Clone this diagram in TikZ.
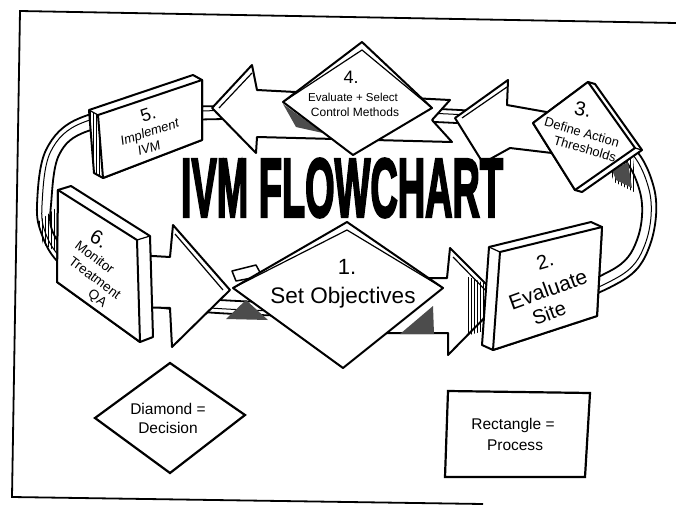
\documentclass[tikz,border=0pt]{standalone}
\usepackage{fontspec}
\setmainfont{Liberation Sans}
\newfontfamily\titlefont{Liberation Sans}[FakeBold=3.5]
\usetikzlibrary{patterns}
\newcommand\myfs[1]{\fontsize{#1}{#1}\selectfont}
\tikzset{
  shapeol/.style={fill=white, draw=black, line width=2pt, line join=round},
  edgethree/.style={draw=black, line width=1.2pt},
  darkpatch/.style={fill=black!70, draw=none},
  hatchpatch/.style={pattern=vertical lines, draw=none},
  ringline/.style={draw=black, line width=1.8pt},
  lab/.style={inner sep=0pt, align=center},
}
\begin{document}
\begin{tikzpicture}[x=1pt,y=-1pt]
\useasboundingbox (0,0) rectangle (676,506);
% frame
\draw[line width=1.8pt] (676,23) -- (20,11) -- (12,497) -- (483,504);

% ring band behind everything
\draw[ringline] plot[smooth cycle, tension=0.6] coordinates {(37,205) (46,150) (80,118) (150,108) (345,106) (540,116) (622,138) (654,188) (650,245) (620,282) (540,306) (345,316) (180,310) (95,290) (58,262) (42,235)};
\draw[line width=1pt] plot[smooth cycle, tension=0.6] coordinates {(42,205) (50.5,152) (83,122.5) (152,112.5) (345,110.5) (539,120.5) (618.5,142) (649,189.5) (645.5,243) (616.5,278) (538,301.5) (345,311.5) (181,305.5) (97,285.5) (61.5,258.5) (45.5,233)};
\draw[ringline] plot[smooth cycle, tension=0.6] coordinates {(51,205) (59,155) (88,131) (155,121) (345,119) (538,129) (612,149) (640,192) (637,240) (610,271) (535,293) (345,303) (182,297) (100,278) (68,253) (52,230)};

% hatched shadows on the band
\path[hatchpatch] (38,222) -- (56,208) -- (57,252) -- (43,244) -- cycle;
\path[hatchpatch] (608,165) -- (633,158) -- (636,193) -- (614,182) -- cycle;
\path[darkpatch] (612,170) -- (628,162) -- (632,188) -- (616,180) -- cycle;

% block arrows
% 4 -> 5
\draw[shapeol] (450,100) -- (432,120) -- (452,142) -- (257,137) -- (256,153) -- (212,108) -- (252,65) -- (257,90) -- cycle;
\draw[edgethree] (219,108) -- (252,73);
% 3 -> 4
\draw[shapeol] (552,113) -- (507,105) -- (508,80) -- (455,118) -- (483,163) -- (510,148) -- (552,153) -- cycle;
\draw[edgethree] (462,118) -- (507,87);
% 6 -> 1
\draw[shapeol] (135,255) -- (170,257) -- (173,225) -- (230,290) -- (172,347) -- (170,308) -- (135,307) -- cycle;
\draw[edgethree] (175,234) -- (223,290);
% 1 -> 2
\draw[shapeol] (385,278) -- (447,278) -- (450,248) -- (502,300) -- (448,355) -- (448,333) -- (385,333) -- cycle;
\draw[edgethree] (453,257) -- (495,300);
\path[hatchpatch] (466,276) -- (484,283) -- (484,331) -- (466,336) -- cycle;
% small tail piece left of diamond 1
\draw[shapeol, line width=1.5pt] (232,271) -- (256,265) -- (262,276) -- (236,281) -- cycle;

% shadows near the diamonds
\path[darkpatch] (226,319) -- (246,300) -- (268,320) -- cycle;
\path[darkpatch] (400,334) -- (433,306) -- (434,334) -- cycle;
\path[darkpatch] (283,104) -- (323,133) -- (296,127) -- cycle;

% box 5 (slab, depth up-left)
\draw[shapeol] (89,110) -- (193,75) -- (202,80) -- (202,140) -- (103,178) -- (94,173) -- cycle;
\path[hatchpatch] (89,110) -- (98,115) -- (103,178) -- (94,173) -- cycle;
\draw[shapeol] (98,115) -- (202,80) -- (202,140) -- (103,178) -- cycle;
\draw[edgethree] (98,115) -- (89,110);

% box 2
\draw[shapeol] (489,247) -- (591,222) -- (602,227) -- (597,316) -- (493,350) -- (482,345) -- cycle;
\draw[shapeol] (500,252) -- (602,227) -- (597,316) -- (493,350) -- cycle;
\draw[edgethree] (500,252) -- (489,247);

% box 6 (depth up-right)
\draw[shapeol] (58,190) -- (71,186) -- (150,236) -- (153,337) -- (140,342) -- (57,282) -- cycle;
\draw[shapeol] (58,190) -- (137,240) -- (140,342) -- (57,282) -- cycle;
\draw[edgethree] (137,240) -- (150,236);

% box 3 (rotated square)
\draw[shapeol] (588,82) -- (595,84) -- (642,150) -- (582,192) -- (575,190) -- (533,123) -- cycle;
\draw[shapeol] (588,82) -- (635,148) -- (575,190) -- (533,123) -- cycle;
\draw[edgethree] (635,148) -- (642,150);

% diamond 4
\draw[shapeol] (362,42) -- (432,108) -- (353,155) -- (283,102) -- cycle;
\draw[edgethree] (283,102) -- (362,50) -- (432,108);

% diamond 1
\draw[shapeol] (347,222) -- (443,288) -- (343,368) -- (233,288) -- cycle;
\draw[edgethree] (233,288) -- (347,230) -- (443,288);

% labels
\node[lab, rotate=18, font=\myfs{18}] (n5) at (148,114) {5.};
\node[lab, rotate=18, font=\itshape\myfs{13}] (i5a) at (150,133) {Implement};
\node[lab, rotate=18, font=\itshape\myfs{13}] (i5b) at (149,148) {IVM};

\node[lab, rotate=16, font=\myfs{20}] (n2) at (545,261) {2.};
\node[lab, rotate=20, font=\myfs{21}] (e2a) at (548,289) {Evaluate};
\node[lab, rotate=20, font=\myfs{20}] (e2b) at (549,313) {Site};

\node[lab, rotate=-12, font=\myfs{20}] (n3) at (583,109) {3.};
\node[lab, rotate=-16, font=\myfs{13}] (d3a) at (582,132) {Define Action};
\node[lab, rotate=-16, font=\myfs{13}] (d3b) at (585,149) {Thresholds};

\node[lab, rotate=-30, font=\myfs{20}] (n6) at (99,239) {6.};
\node[lab, rotate=-37, font=\myfs{13.5}] (m6a) at (95,257) {Monitor};
\node[lab, rotate=-37, font=\myfs{13.5}] (m6b) at (95,278) {Treatment};
\node[lab, rotate=-37, font=\myfs{13.5}] (m6c) at (97,299) {QA};

\node[lab, font=\myfs{18}] (n4) at (351,77) {4.};
\node[lab, font=\myfs{11.5}] (e4a) at (353,97) {Evaluate + Select};
\node[lab, font=\myfs{12}] (e4b) at (355,112) {Control Methods};

\node[lab, font=\myfs{22}] (n1) at (347,267) {1.};
\node[lab, font=\myfs{22.5}] (s1) at (343,298) {Set Objectives};

% legend
\draw[line width=2.2pt] (170,363) -- (245,415) -- (170,473) -- (95,418) -- cycle;
\node[lab, font=\myfs{15.5}] (ld1) at (168,409) {Diamond =};
\node[lab, font=\myfs{15.5}] (ld2) at (168,428) {Decision};
\draw[line width=2.2pt] (448,391) -- (590,393) -- (585,477) -- (445,477) -- cycle;
\node[lab, font=\myfs{15.5}] (lr1) at (513,425) {Rectangle =};
\node[lab, font=\myfs{15.5}] (lr2) at (515,445) {Process};

% title
\node[inner sep=0pt] (title) at (342,188) {\resizebox{322pt}{58pt}{\titlefont\bfseries IVM FLOWCHART}};
\end{tikzpicture}
\end{document}
